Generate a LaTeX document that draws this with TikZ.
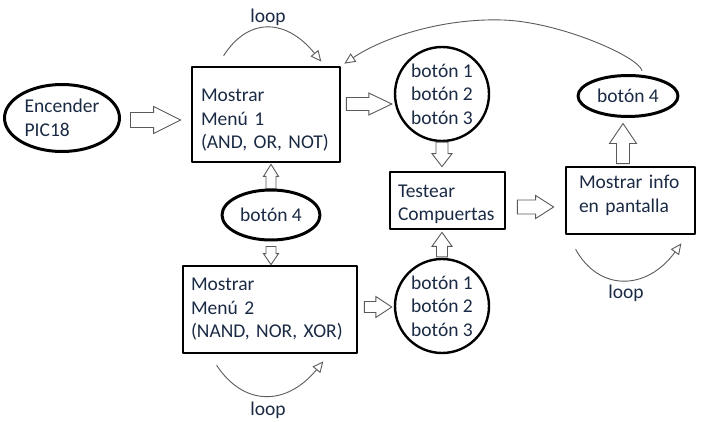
\documentclass[tikz,border=0pt]{standalone}
\usepackage{fontspec}
\setmainfont{Carlito}
\usetikzlibrary{shapes.geometric,arrows.meta,calc}

\definecolor{ink}{HTML}{1B2A44}
\definecolor{wire}{HTML}{5A5A5A}

\tikzset{
  box/.style={draw=black, line width=2.7pt, rectangle, align=left, text=ink},
  oval/.style={draw=black, line width=3pt, ellipse, inner sep=0pt, align=left, text=ink},
  ring/.style={draw=black, line width=2.4pt, circle, inner sep=0pt, minimum size=94pt, align=center, text=ink},
  loopline/.style={draw=wire, line width=0.9pt, -{Triangle[open, length=11pt, width=10pt]}},
  % hollow block arrow: half shaft, half head, head length
  fat/.style n args={3}{draw=wire, line width=0.9pt, fill=white, line join=miter,
    to path={($(\tikztotarget)!#3!(\tikztostart)$) coordinate (hb)
      ($(\tikztostart)!#1!90:(\tikztotarget)$) -- ($(hb)!#1!90:(\tikztotarget)$)
      -- ($(hb)!#2!90:(\tikztotarget)$) -- (\tikztotarget)
      -- ($(hb)!#2!-90:(\tikztotarget)$) -- ($(hb)!#1!-90:(\tikztotarget)$)
      -- ($(\tikztostart)!#1!-90:(\tikztotarget)$) -- cycle}}
}

\begin{document}
\begin{tikzpicture}[x=1pt, y=-1pt, line cap=round, line join=round,
  every node/.style={font=\fontsize{19.5}{23.5}\selectfont}]

\useasboundingbox (0,0) rectangle (701,422);

% -----------------------
% States
% -----------------------
\node[oval, minimum width=115pt, minimum height=67pt] (encender) at (62,118) {Encender\\PIC18};
\node[box, text width=130pt, inner xsep=9pt, minimum height=95pt] (menu1) at (266,114.5) {\rule{0pt}{24pt}Mostrar\\Menú 1\\(AND, OR, NOT)};
\node[oval, minimum width=98pt, minimum height=50pt] (btn4a) at (271,215) {botón 4};
\node[box, text width=158pt, inner xsep=8pt, minimum height=87pt] (menu2) at (270,309.5) {Mostrar\\Menú 2\\(NAND, NOR, XOR)};

\node[ring] (btnsA) at (442,94) {botón 1\\botón 2\\botón 3};
\node[ring] (btnsB) at (442,306) {botón 1\\botón 2\\botón 3};
\node[box, text width=99pt, inner xsep=8pt, minimum height=57pt] (testear) at (447.5,200.5) {\rule{0pt}{20pt}Testear\\Compuertas};

\node[box, text width=103pt, inner xsep=13pt, minimum height=67pt] (info) at (630.5,200.5) {Mostrar info\\en pantalla\rule[-13pt]{0pt}{0pt}};
\node[oval, minimum width=100pt, minimum height=41pt] (btn4b) at (628,96) {botón 4};

% -----------------------
% Block arrows
% -----------------------
\draw[fat={7.5pt}{13.5pt}{27pt}] ($(encender.east)+(9.5,2)$) to ($(menu1.west)+(-10,5.5)$);
\draw[fat={6.5pt}{11pt}{23pt}] ($(menu1.east)+(5,-10.5)$) to ($(btnsA.west)+(-2,10)$);
\draw[fat={5pt}{7.5pt}{12pt}] (btn4a.north) to ($(btn4a.north |- menu1.south)+(0,1)$);
\draw[fat={5pt}{7.5pt}{11pt}] ($(btn4a.south)+(0,5)$) to (btn4a.south |- menu2.north);
\draw[fat={5.5pt}{10.5pt}{16pt}] ($(menu2.east)+(6,-2.5)$) to ($(btnsB.west)+(-2,1)$);
\draw[fat={6pt}{10pt}{13pt}] (btnsA.south) to ($(btnsA.south |- testear.north)+(0,-4)$);
\draw[fat={5.5pt}{10pt}{14pt}] ($(btnsB.north)+(0,-1)$) to ($(btnsB.north |- testear.south)+(0,2)$);
\draw[fat={7pt}{11.5pt}{18pt}] ($(testear.east)+(11,6.5)$) to ($(info.west)+(-11,6.5)$);
\draw[fat={6.5pt}{13.5pt}{20pt}] ($(info.north)+(-7.5,-2)$) to ($(btn4b.south)+(-5,5.5)$);

% -----------------------
% Loops
% -----------------------
\draw[loopline] ($(menu1.north west)+(33,-10)$) .. controls +(25,-39) and +(-35,-43) .. ($(menu1.north east)+(-20,-4)$);
\draw[loopline] ($(menu2.south west)+(35,11)$) .. controls +(27,41) and +(-37,45) .. ($(menu2.south east)+(-35,7)$);
\draw[loopline] ($(info.south west)+(11,14)$) .. controls +(23,42) and +(-35,48) .. ($(info.south east)+(-15,8)$);
\draw[loopline] ($(btn4b.north)+(14,-3.5)$) .. controls +(-4,-14) and +(57,2) .. (503,20)
  .. controls +(-63,-2) and +(37,-25) .. ($(menu1.north east)+(3,-2)$);

\node[text=ink] (loopA) at (268,17) {loop};
\node[text=ink] (loopB) at (268,410) {loop};
\node[text=ink] (loopC) at (626,293) {loop};

\end{tikzpicture}
\end{document}
